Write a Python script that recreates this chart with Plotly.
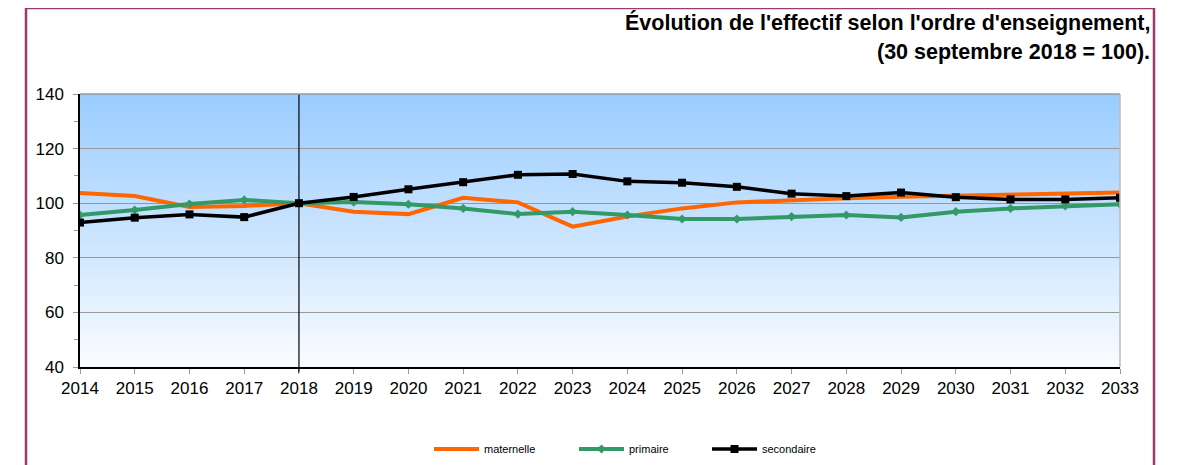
import base64, struct, zlib
import plotly.graph_objects as go

years = list(range(2014, 2034))
maternelle = [103.7, 102.6, 98.6, 99.0, 100.0, 96.9, 96.0, 102.0, 100.3, 91.4,
              95.1, 98.1, 100.3, 101.2, 101.8, 102.4, 102.8, 103.1, 103.3, 103.9]
primaire = [95.7, 97.5, 99.7, 101.2, 100.0, 100.4, 99.6, 98.1, 96.0, 96.9,
            95.7, 94.2, 94.2, 95.1, 95.7, 94.8, 96.9, 98.1, 99.0, 99.6]
secondaire = [92.9, 94.7, 95.9, 94.9, 100.0, 102.3, 105.1, 107.7, 110.4, 110.7,
              108.0, 107.5, 106.0, 103.5, 102.6, 103.9, 102.2, 101.4, 101.4, 102.0]
y_ticks = [40, 60, 80, 100, 120, 140]


def gradient_png(top, bottom, h=256, w=4):
    rows = b""
    for i in range(h):
        t = i / (h - 1)
        c = bytes(int(round(top[k] + (bottom[k] - top[k]) * t)) for k in range(3))
        rows += b"\x00" + c * w
    def chunk(tag, data):
        return struct.pack(">I", len(data)) + tag + data + struct.pack(">I", zlib.crc32(tag + data) & 0xffffffff)
    png = b"\x89PNG\r\n\x1a\n" + chunk(b"IHDR", struct.pack(">IIBBBBB", w, h, 8, 2, 0, 0, 0))
    png += chunk(b"IDAT", zlib.compress(rows)) + chunk(b"IEND", b"")
    return "data:image/png;base64," + base64.b64encode(png).decode()


fig = go.Figure()
fig.add_trace(go.Scatter(x=years, y=maternelle, name="maternelle", mode="lines",
                         line=dict(color="#ff6600", width=4), legend="legend"))
fig.add_trace(go.Scatter(x=years, y=primaire, name="primaire", mode="lines+markers",
                         line=dict(color="#339966", width=4),
                         marker=dict(symbol="diamond", size=7, color="#339966"),
                         legend="legend2"))
fig.add_trace(go.Scatter(x=years, y=secondaire, name="secondaire", mode="lines+markers",
                         line=dict(color="#000000", width=3.5),
                         marker=dict(symbol="square", size=8, color="#000000"),
                         legend="legend3"))

# page body has an 8px margin: work in reference pixels, shifted by OFF
OFF = 8
W, H = 1183 - OFF, 465 - OFF
L, T = 80 - OFF, 94 - OFF
R = W - (1120 - OFF)
B = H - (367 - OFF)
pw, ph = W - L - R, H - T - B

def px(x):
    return (x - OFF - L) / pw

def py(y):
    return (H - B - (y - OFF)) / ph

def leg(xpix):
    return dict(orientation="h", x=px(xpix), xanchor="left", y=py(449), yanchor="middle",
                font=dict(size=11), bgcolor="rgba(0,0,0,0)", itemwidth=45)

fig.update_layout(
    width=W, height=H,
    margin=dict(l=L, r=R, t=T, b=B, pad=0, autoexpand=False),
    paper_bgcolor="white", plot_bgcolor="white",
    font=dict(family="Liberation Sans, Arial, sans-serif", color="black"),
    showlegend=True,
    legend=leg(429), legend2=leg(574), legend3=leg(707),
    images=[dict(source=gradient_png((153, 204, 255), (250, 252, 255)),
                 xref="paper", yref="paper", x=0, y=1, sizex=1, sizey=1,
                 sizing="stretch", layer="below", xanchor="left", yanchor="top")],
    xaxis=dict(range=[2014, 2033], tickmode="array", tickvals=years,
               ticktext=[str(y) for y in years], ticks="outside", ticklen=5,
               tickcolor="#999999", showgrid=False, showline=True, linecolor="black",
               linewidth=1.5, tickfont=dict(size=17), zeroline=False),
    yaxis=dict(range=[40, 140], tickmode="array", tickvals=y_ticks, ticks="outside",
               ticklen=5, tickcolor="#999999", showgrid=True, gridcolor="#999999",
               gridwidth=1, showline=True, linecolor="black", linewidth=1.5,
               tickfont=dict(size=17), zeroline=False, ticklabelstandoff=6,
               minor=dict(dtick=10, tick0=40, ticks="outside", ticklen=4,
                          tickcolor="#999999", showgrid=False)),
    shapes=[
        dict(type="line", xref="x", yref="paper", x0=2018, x1=2018, y0=-0.02, y1=1,
             line=dict(color="black", width=1.2), layer="above"),
        dict(type="line", xref="paper", yref="paper", x0=0, x1=1, y0=1, y1=1,
             line=dict(color="#999999", width=1.5), layer="above"),
        dict(type="line", xref="paper", yref="paper", x0=1, x1=1, y0=0, y1=1,
             line=dict(color="#bbbbbb", width=1.5), layer="above"),
        dict(type="rect", xref="paper", yref="paper", x0=px(26), x1=px(1154),
             y0=py(8), y1=py(480), line=dict(color="#9e3a6b", width=2.5),
             fillcolor="rgba(0,0,0,0)", layer="above"),
    ],
    annotations=[
        dict(text="<b>Évolution de l'effectif selon l'ordre d'enseignement,</b>",
             xref="paper", yref="paper", x=px(1152), y=py(22), xanchor="right",
             yanchor="middle", showarrow=False, font=dict(size=21.5)),
        dict(text="<b>(30 septembre 2018 = 100).</b>",
             xref="paper", yref="paper", x=px(1152), y=py(52), xanchor="right",
             yanchor="middle", showarrow=False, font=dict(size=21.5)),
    ],
)

fig.write_html("out.html")
